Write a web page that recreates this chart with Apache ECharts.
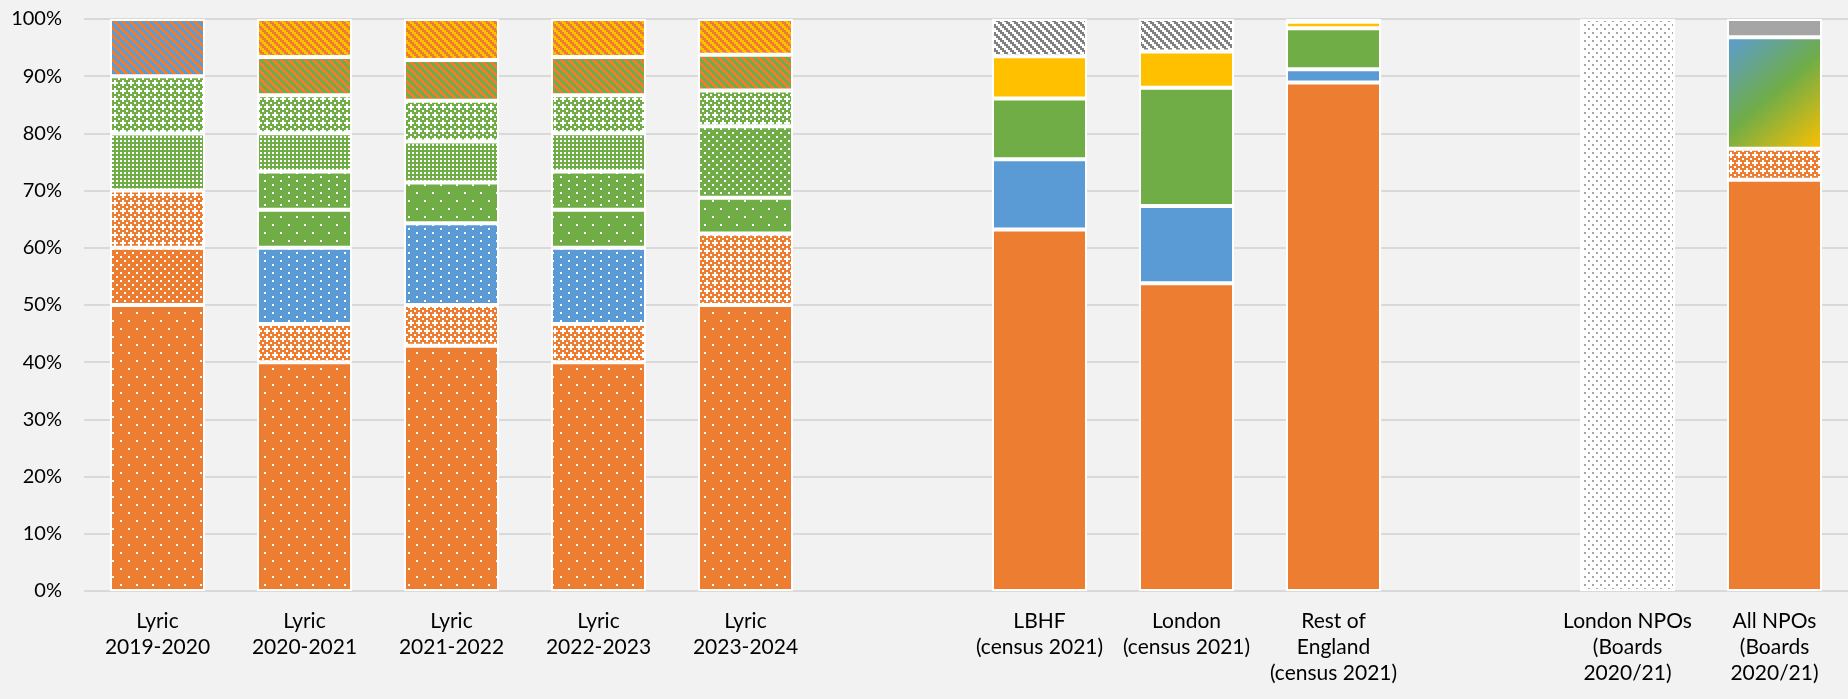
<!DOCTYPE html>
<html>
<head>
<meta charset="utf-8">
<script src="https://cdn.jsdelivr.net/npm/echarts@6/dist/echarts.min.js"></script>
<style>
  html, body { margin: 0; padding: 0; background: #f2f2f2; }
  #chart { width: 1848px; height: 699px; }
</style>
</head>
<body>
<div id="chart"></div>
<script>
// Board / population ethnicity shares (%), one slot per column; blank slots separate the groups.
const categories = [
  'Lyric\n2019-2020', 'Lyric\n2020-2021', 'Lyric\n2021-2022', 'Lyric\n2022-2023', 'Lyric\n2023-2024',
  '',
  'LBHF\n(census 2021)', 'London\n(census 2021)', 'Rest of\nEngland\n(census 2021)',
  '',
  'London NPOs\n(Boards\n2020/21)', 'All NPOs\n(Boards\n2020/21)'
];

// Census / NPO solid groups
const whiteCensus  = [null, null, null, null, null, null, 63.2, 53.8, 88.9, null, null, 71.9];
const blackCensus  = [null, null, null, null, null, null, 12.3, 13.5, 2.3, null, null, null];
const asianCensus  = [null, null, null, null, null, null, 10.6, 20.7, 7.2, null, null, null];
const mixedCensus  = [null, null, null, null, null, null, 7.4, 6.3, 1.1, null, null, null];
const otherCensus  = [null, null, null, null, null, null, 6.5, 5.7, 0.5, null, null, null];
const minorityNpo  = [null, null, null, null, null, null, null, null, null, null, null, 19.5];
const notStatedNpo = [null, null, null, null, null, null, null, null, null, null, 100, null];
const unknownNpo   = [null, null, null, null, null, null, null, null, null, null, null, 3.2];

// Lyric board groups
const whiteG1 = [50, 40, 42.86, 40, 50, null, null, null, null, null, null, null];
const whiteG2 = [10, null, null, null, null, null, null, null, null, null, null, null];
const whiteG3 = [10, 6.67, 7.14, 6.67, 12.5, null, null, null, null, null, null, 5.4];
const blackG1 = [null, 13.33, 14.29, 13.33, null, null, null, null, null, null, null, null];
const asianG1 = [null, 6.67, 7.14, 6.67, 6.25, null, null, null, null, null, null, null];
const asianG2 = [null, 6.67, null, 6.67, null, null, null, null, null, null, null, null];
const asianG3 = [null, null, null, null, 12.5, null, null, null, null, null, null, null];
const asianG4 = [10, 6.67, 7.14, 6.67, null, null, null, null, null, null, null, null];
const asianG5 = [10, 6.67, 7.14, 6.67, 6.25, null, null, null, null, null, null, null];
const mixedG1 = [10, null, null, null, null, null, null, null, null, null, null, null];
const mixedG2 = [null, 6.66, 7.14, 6.66, 6.25, null, null, null, null, null, null, null];
const mixedG3 = [null, 6.66, 7.15, 6.66, 6.25, null, null, null, null, null, null, null];

// Palette
const ORANGE = '#ED7D31', BLUE = '#5B9BD5', GREEN = '#70AD47', YELLOW = '#FFC000', GREY = '#A5A5A5';

// Bitmap pattern fills ('1' = foreground pixel), scaled up by px
function tile(rows, fg, bg, px) {
  const c = document.createElement('canvas');
  c.width = rows[0].length * px;
  c.height = rows.length * px;
  const g = c.getContext('2d');
  g.fillStyle = bg;
  g.fillRect(0, 0, c.width, c.height);
  g.fillStyle = fg;
  rows.forEach((r, y) => {
    for (let x = 0; x < r.length; x++) if (r[x] === '1') g.fillRect(x * px, y * px, px, px);
  });
  return { image: c, repeat: 'repeat' };
}
const DOTS5  = ['10000000', '00000000', '00000000', '00000000', '00001000', '00000000', '00000000', '00000000'];
const DOTS10 = ['10000000', '00000000', '00001000', '00000000'];
const DOTS20 = ['10001000', '00000000', '00100010', '00000000'];
const GRID25 = ['10', '00'];
const CROSS  = ['0100', '1110', '0100', '0001'];
const DIAG   = ['1100', '0110', '0011', '1001'];

const fills = {
  whiteCensus: ORANGE,
  whiteG1: tile(DOTS5, '#fff', ORANGE, 2),
  whiteG2: tile(DOTS20, '#fff', ORANGE, 2),
  whiteG3: tile(CROSS, '#fff', ORANGE, 2),
  blackG1: tile(DOTS10, '#fff', BLUE, 2),
  blackCensus: BLUE,
  asianG1: tile(DOTS5, '#fff', GREEN, 2),
  asianG2: tile(DOTS10, '#fff', GREEN, 2),
  asianG3: tile(DOTS20, '#fff', GREEN, 2),
  asianG4: tile(GRID25, '#fff', GREEN, 2),
  asianG5: tile(CROSS, '#fff', GREEN, 2),
  mixedG1: tile(DIAG, BLUE, ORANGE, 2),
  asianCensus: GREEN,
  mixedCensus: YELLOW,
  minorityNpo: new echarts.graphic.LinearGradient(0, 0, 1, 1, [
    { offset: 0, color: BLUE }, { offset: 0.5, color: GREEN }, { offset: 1, color: YELLOW }
  ]),
  mixedG2: tile(DIAG, GREEN, ORANGE, 2),
  mixedG3: tile(DIAG, ORANGE, YELLOW, 2),
  otherCensus: tile(DIAG, '#808080', '#fff', 2),
  notStatedNpo: tile(DOTS20, '#a6a6a6', '#fff', 2),
  unknownNpo: GREY
};

// Stacking order, bottom to top
const stackOrder = [
  ['White (census)', whiteCensus, 'whiteCensus'],
  ['White group 1', whiteG1, 'whiteG1'],
  ['White group 2', whiteG2, 'whiteG2'],
  ['White group 3', whiteG3, 'whiteG3'],
  ['Black group 1', blackG1, 'blackG1'],
  ['Black (census)', blackCensus, 'blackCensus'],
  ['Asian group 1', asianG1, 'asianG1'],
  ['Asian group 2', asianG2, 'asianG2'],
  ['Asian group 3', asianG3, 'asianG3'],
  ['Asian group 4', asianG4, 'asianG4'],
  ['Asian group 5', asianG5, 'asianG5'],
  ['Mixed group 1', mixedG1, 'mixedG1'],
  ['Asian (census)', asianCensus, 'asianCensus'],
  ['Mixed (census)', mixedCensus, 'mixedCensus'],
  ['Ethnically diverse (NPO)', minorityNpo, 'minorityNpo'],
  ['Mixed group 2', mixedG2, 'mixedG2'],
  ['Mixed group 3', mixedG3, 'mixedG3'],
  ['Other (census)', otherCensus, 'otherCensus'],
  ['Not stated (NPO)', notStatedNpo, 'notStatedNpo'],
  ['Unknown (NPO)', unknownNpo, 'unknownNpo']
];

const FONT = 'Lato, "Open Sans", sans-serif';

const chart = echarts.init(document.getElementById('chart'), null, { renderer: 'canvas' });
chart.setOption({
  backgroundColor: '#f2f2f2',
  animation: false,
  grid: { left: 84, right: -6, top: 19, bottom: 108 },
  xAxis: {
    type: 'category',
    data: categories,
    axisLine: { show: false },
    axisTick: { show: false },
    axisLabel: {
      interval: 0, margin: 17, fontFamily: FONT, fontSize: 21,
      color: '#000', lineHeight: 26, align: 'center'
    }
  },
  yAxis: {
    type: 'value',
    min: 0, max: 100, interval: 10,
    axisLine: { show: false },
    axisTick: { show: false },
    axisLabel: { formatter: '{value}%', margin: 22, fontFamily: FONT, fontSize: 20, color: '#000' },
    splitLine: { lineStyle: { color: '#d9d9d9', width: 2 } }
  },
  series: stackOrder.map(([name, data, key]) => ({
    type: 'bar',
    name: name,
    stack: 'total',
    data: data,
    barWidth: 95,
    itemStyle: { color: fills[key], borderColor: '#ffffff', borderWidth: 2 },
    emphasis: { disabled: true }
  }))
});
</script>
</body>
</html>
